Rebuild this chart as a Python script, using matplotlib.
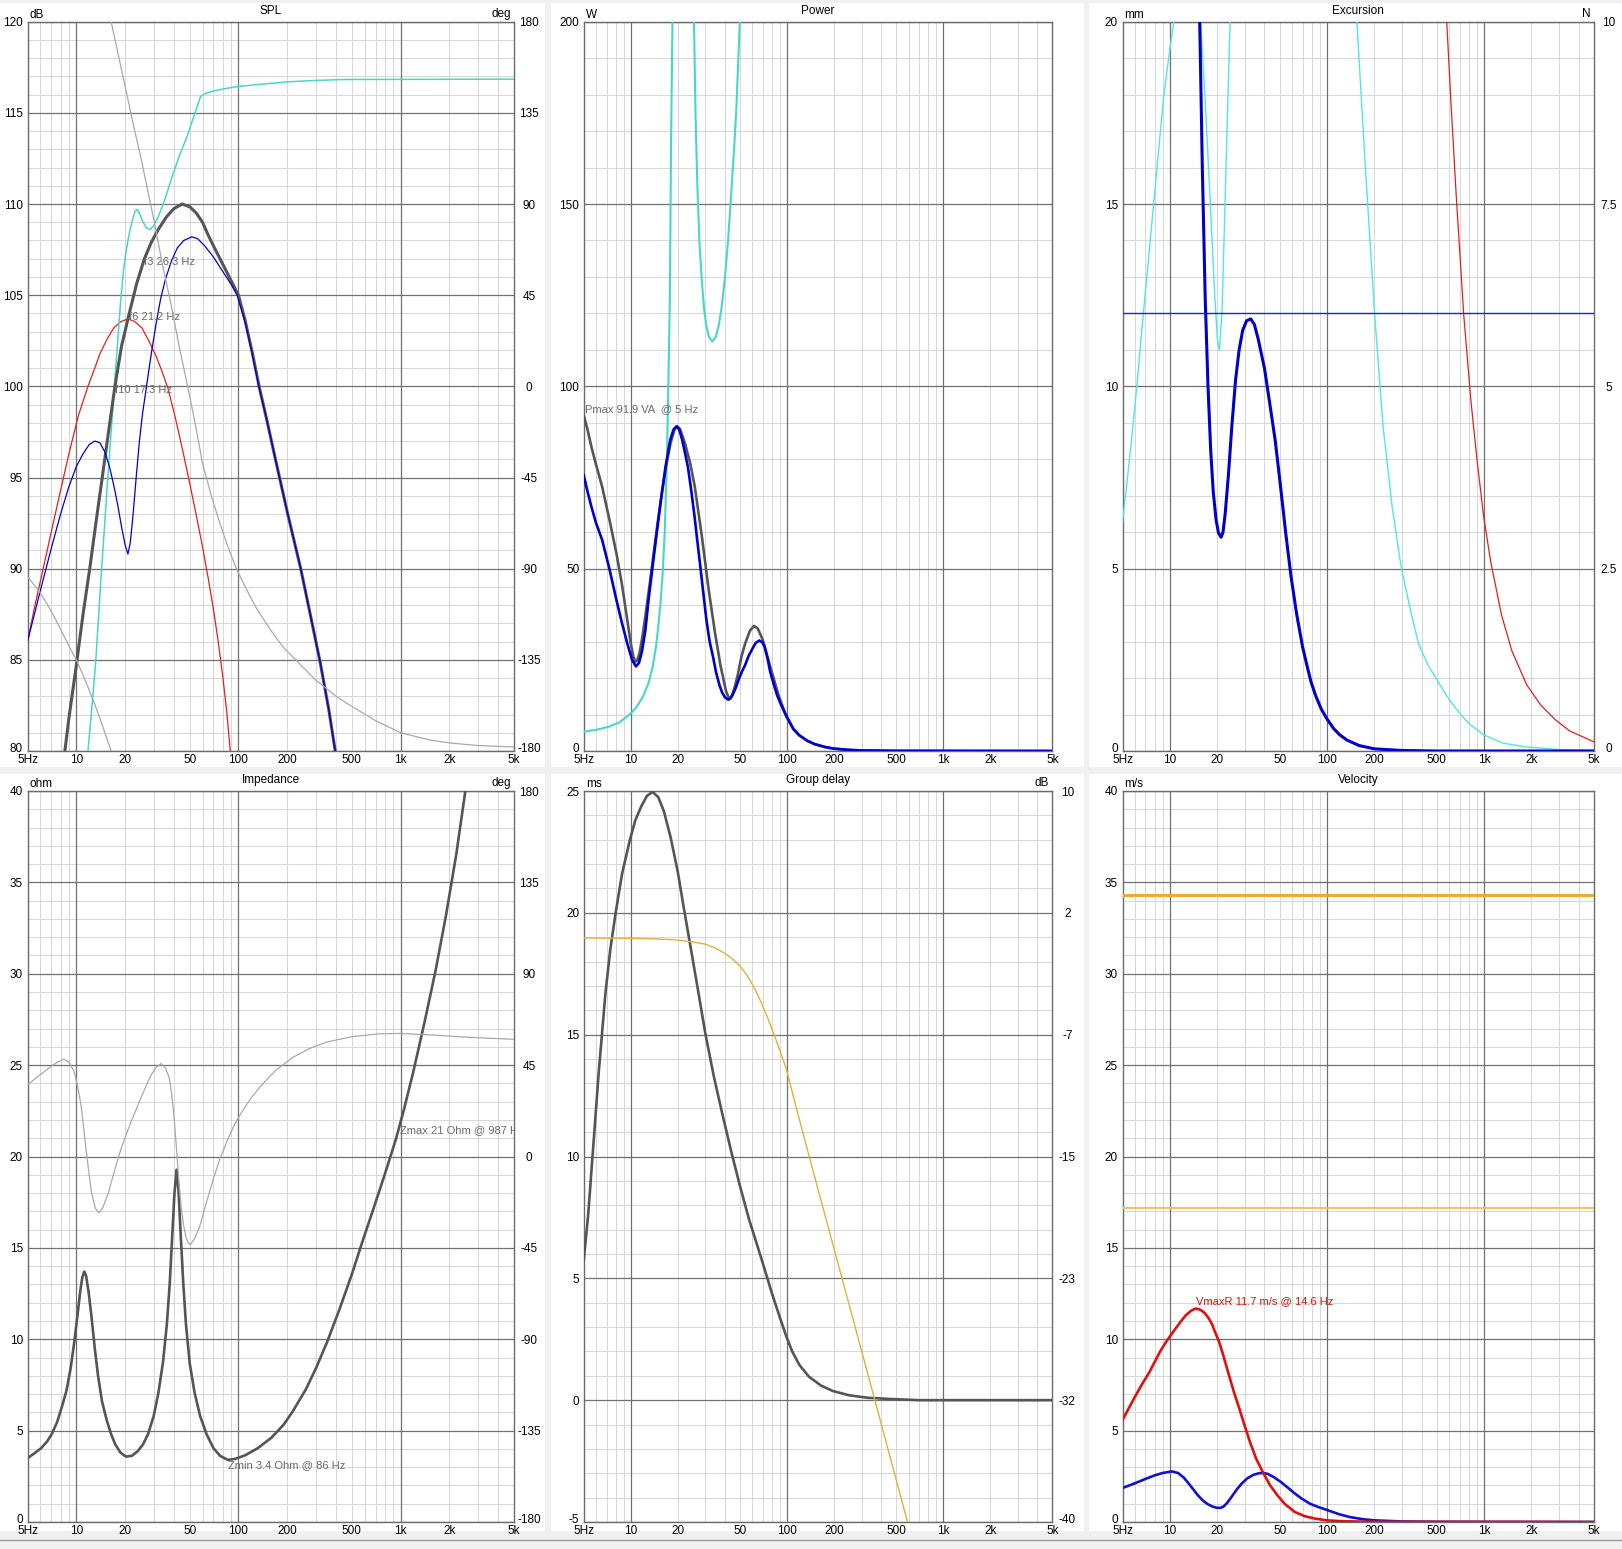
import numpy as np
import matplotlib
matplotlib.use('Agg')
import matplotlib.pyplot as plt
from matplotlib.ticker import NullLocator
from matplotlib.patches import Rectangle
from matplotlib.lines import Line2D
from matplotlib.transforms import ScaledTranslation

plt.rcParams['font.family'] = ['Liberation Sans', 'DejaVu Sans']

# ======================= DATA =======================
x_tick_vals = [5, 10, 20, 50, 100, 200, 500, 1000, 2000, 5000]
x_tick_labels = ['5Hz', '10', '20', '50', '100', '200', '500', '1k', '2k', '5k']

# ---- SPL panel (dB, phase in deg) ----
spl_total_f = [8.5, 9, 10, 11, 12.1, 13.2, 14.4, 15.8, 17.3, 19, 21.2, 23.5, 26.3, 29, 32, 36, 40, 45, 50, 55, 60, 65, 72, 80, 90, 100, 110, 122, 134, 150, 170, 200, 242, 280, 320, 360, 395, 420]
spl_total_db = [80, 81.8, 84.7, 87.5, 90, 92.5, 94.9, 97.5, 100, 102.2, 104, 105.6, 107, 107.9, 108.6, 109.3, 109.75, 110, 109.85, 109.5, 109, 108.3, 107.5, 106.7, 105.8, 105, 103.6, 101.8, 100, 98.1, 95.9, 93.1, 90, 87.3, 84.8, 82.3, 80, 78.5]

spl_blue_f = [5, 6, 7, 8, 9, 10, 11, 12, 13, 14, 15, 16, 17, 18, 19, 20, 20.8, 21.5, 22.3, 23.5, 24.5, 25.6, 27.2, 29, 31, 33.1, 35.5, 38.7, 42, 46, 51.5, 56, 62, 70, 80, 90, 98, 110, 122, 134, 150, 170, 200, 242, 280, 320, 360, 395, 420]
spl_blue_db = [86, 88.8, 91.1, 93, 94.5, 95.6, 96.3, 96.8, 97, 96.9, 96.4, 95.6, 94.6, 93.5, 92.3, 91.3, 90.8, 91.4, 92.8, 95.2, 97, 98.5, 100.1, 101.8, 103.4, 104.8, 105.9, 106.9, 107.6, 108, 108.2, 108.1, 107.7, 107.1, 106.3, 105.6, 105, 103.5, 101.7, 99.95, 98.1, 95.9, 93.1, 90, 87.3, 84.8, 82.3, 80, 78.5]

spl_red_f = [5, 5.5, 6, 6.5, 7, 8, 9, 10.3, 11.8, 13, 14, 15.5, 17, 18.8, 20.8, 23, 25.4, 28, 30.9, 33.5, 36.7, 40.5, 45, 50, 55, 60, 65, 70, 75, 80, 85, 88.6, 92]
spl_red_db = [86, 87.8, 89.3, 90.7, 92, 94.3, 96.3, 98.4, 100, 101, 101.8, 102.6, 103.2, 103.55, 103.7, 103.55, 103.2, 102.5, 101.7, 100.9, 99.9, 98.4, 96.6, 94.7, 92.9, 91.2, 89.5, 87.8, 86, 84.1, 82, 80.2, 78.5]

spl_cyan_f = [11.5, 11.8, 12.5, 13.2, 14.2, 15.5, 16.7, 17.6, 18.7, 19.5, 20.2, 21, 22, 23, 23.6, 24.5, 25.5, 27, 28.4, 30, 32, 35, 39, 43, 48.6, 53, 58.4, 62, 70, 85, 100, 150, 200, 300, 450, 5000]
spl_cyan_db = [78.5, 80, 82.5, 85, 89.5, 94.5, 98.5, 101.3, 104.5, 106.3, 107.3, 108.2, 109, 109.6, 109.7, 109.5, 109.1, 108.7, 108.6, 108.8, 109.3, 110.2, 111.5, 112.6, 113.8, 114.8, 115.9, 116.05, 116.2, 116.35, 116.45, 116.6, 116.7, 116.78, 116.83, 116.85]

spl_phase_lo_f = [5, 5.5, 6, 6.5, 7, 7.5, 8, 9, 10, 11, 12, 13, 14, 15, 16.4, 16.7]
spl_phase_lo_deg = [-94, -98, -102, -106.5, -111, -115.5, -120, -128, -135, -142.5, -150, -157, -164, -171, -180, -183]
spl_phase_hi_f = [16.2, 16.4, 18, 20, 22.5, 25, 27.5, 30, 34, 38.5, 43, 48, 54, 60, 68, 75, 85, 97, 115, 130, 160, 190, 225, 300, 400, 500, 700, 1000, 1500, 2000, 3000, 5000]
spl_phase_hi_deg = [183, 180, 165, 148, 129, 113, 97, 82.5, 60, 40, 20, 2, -18, -38, -54, -65, -78, -90, -102, -110, -121, -129, -135, -145, -153, -158, -165, -171, -174.5, -176, -177.3, -178]

spl_marks = [('f3 26.3 Hz', 26.3, 107), ('f6 21.2 Hz', 21.2, 104), ('f10 17.3 Hz', 17.3, 100)]

# ---- Power panel (W / VA) ----
pow_total_f = [5, 5.3, 5.6, 6, 6.56, 7.3, 8.1, 8.8, 9.5, 10, 10.4, 10.7, 11, 11.4, 11.9, 12.5, 13.2, 13.9, 14.8, 15.8, 16.9, 18, 19, 19.8, 20.7, 22.2, 24, 25.7, 28.5, 31.6, 34.6, 37.6, 40.7, 42.5, 44.5, 46.5, 48.5, 51.2, 54, 58, 61.5, 65, 70, 78, 88, 98.7, 110, 120, 135, 150, 175, 200, 250, 300, 500, 5000]
pow_total_w = [92.1, 88, 83.4, 78.5, 72.5, 63.5, 54.2, 45.5, 36, 29.5, 25.8, 24.5, 24.8, 27, 31.5, 38, 45.5, 53, 62, 70.5, 78.5, 84.5, 88, 89.1, 88.3, 84.5, 79, 72.5, 59, 44, 32.5, 23.3, 16.5, 14.4, 15.2, 17.8, 21, 26, 29.5, 33, 34.3, 33.6, 30.5, 23.3, 15.5, 9.6, 6, 4.3, 2.8, 1.9, 1.1, 0.65, 0.3, 0.15, 0.04, 0]

pow_blue_f = [5, 5.3, 5.6, 6, 6.56, 7.3, 8.1, 8.8, 9.5, 10.2, 10.8, 11.3, 11.8, 12.4, 13, 13.7, 14.5, 15.6, 16.7, 17.9, 18.8, 19.6, 20.4, 21.3, 22.2, 23.2, 24.3, 25.5, 26.7, 27.9, 29.2, 30.5, 32, 33.6, 35.2, 37, 38.5, 40, 41.5, 42.5, 43.7, 45, 47, 49, 51.5, 54, 57, 60, 63, 66.5, 69.5, 72, 75, 78, 82, 86.5, 92, 98.7, 110, 120, 135, 150, 175, 200, 250, 300, 500, 5000]
pow_blue_w = [75.7, 71, 67, 62.5, 57.9, 50, 41.4, 35, 29.5, 25, 23.2, 24.2, 27.3, 33, 41.4, 49.5, 58, 68.8, 78, 85.3, 88.2, 89, 88.2, 85.5, 82, 78, 72, 65, 57.5, 50.5, 43, 36, 30, 25.9, 21.5, 18, 16, 14.8, 14.2, 14.1, 14.5, 15.5, 17.3, 19.5, 21.8, 23.6, 26.2, 28, 29.6, 30.3, 29.8, 28.5, 25.5, 21.8, 18.5, 15.3, 12.5, 9.8, 6, 4.3, 2.8, 1.9, 1.1, 0.65, 0.3, 0.15, 0.04, 0]

pow_cyan_a_f = [5, 6, 7.3, 8.5, 10, 11, 12, 13, 13.8, 14.5, 15, 15.5, 16, 16.5, 17, 17.4, 17.8, 18.1, 18.5, 19]
pow_cyan_a_w = [5.3, 5.8, 6.7, 7.9, 10.3, 12.3, 15, 18.6, 23, 28.5, 34, 40.5, 48.5, 60, 78, 100, 123.6, 165, 200, 260]
pow_cyan_b_f = [24.8, 25.4, 26, 26.7, 27.5, 28.5, 29.5, 30.5, 31.7, 33.3, 35, 36.5, 38, 40, 42, 44, 46, 47.4, 49.9, 51, 52]
pow_cyan_b_w = [240, 200, 174, 155, 140, 129, 121, 116.5, 113.5, 112.3, 113.5, 116.5, 121, 129.5, 140, 153, 166, 176, 200, 215, 232]

pow_mark = ('Pmax 91.9 VA  @ 5 Hz', 5, 91.9)

# ---- Excursion panel (mm) ----
exc_blue_f = [14.5, 15.5, 16.1, 16.8, 17.5, 18.2, 18.9, 19.7, 20.4, 21.2, 21.8, 22.5, 23.6, 24.8, 26.2, 27.6, 29.1, 30.8, 32.7, 34.5, 36.5, 40, 43, 46.8, 50.5, 54.8, 59, 64.2, 70, 75, 79.1, 85, 92, 99.3, 110, 120, 134, 160, 200, 300, 500, 5000]
exc_blue_mm = [24, 20, 16, 12.4, 10, 8.25, 7.1, 6.34, 5.98, 5.86, 6.0, 6.5, 7.57, 8.9, 10.17, 11.0, 11.54, 11.8, 11.85, 11.7, 11.3, 10.5, 9.6, 8.53, 7.3, 5.93, 4.8, 3.74, 2.85, 2.3, 1.9, 1.5, 1.15, 0.9, 0.62, 0.45, 0.3, 0.15, 0.06, 0.015, 0, 0]
exc_xmax_mm = 12.0

exc_cyan_a_f = [5, 5.35, 5.71, 6.2, 6.68, 7.25, 7.82, 8.5, 9.16, 9.9, 10.6, 11.2]
exc_cyan_a_mm = [6.27, 7.4, 8.53, 10.1, 11.68, 13.3, 14.83, 16.5, 17.97, 19.1, 20, 21.5]
exc_cyan_b_f = [15.2, 15.7, 16.8, 18.2, 19.3, 20.1, 20.7, 21.5, 22.4, 23.4, 24.2, 24.7]
exc_cyan_b_mm = [21.5, 20, 17.84, 14.83, 12.5, 11.27, 10.99, 12.09, 14.83, 17.84, 20, 21.5]
exc_cyan_c_f = [148, 155, 165, 176, 188.6, 201, 227, 259, 295, 340, 384, 440, 500, 570, 650, 800, 990, 1300, 1862, 3000, 5000]
exc_cyan_c_mm = [21.5, 20, 17.97, 15.92, 13.86, 11.98, 8.94, 6.75, 5.1, 3.85, 2.92, 2.35, 1.96, 1.55, 1.2, 0.75, 0.45, 0.22, 0.11, 0.04, 0.02]

exc_red_f = [560, 578, 620, 667, 741, 823, 900, 990, 1100, 1288, 1500, 1862, 2300, 2833, 3500, 5000]
exc_red_mm = [21.5, 20, 17.5, 15.1, 11.98, 9.62, 8.0, 6.47, 5.2, 3.74, 2.75, 1.82, 1.25, 0.86, 0.55, 0.25]

# ---- Impedance panel (ohm, phase deg) ----
imp_f = [5, 5.5, 6.08, 6.6, 7.05, 7.6, 8.16, 8.7, 9.22, 9.7, 10.2, 10.6, 10.9, 11.2, 11.5, 11.9, 12.4, 13, 13.6, 14.4, 15.4, 16.4, 17.4, 18.7, 20.2, 22, 23.9, 25.8, 27.7, 30, 32.1, 34.3, 36.2, 37.7, 39, 40.3, 41.5, 42.7, 44.1, 45.7, 47.4, 50, 53.6, 58, 63.5, 70, 77, 86, 95, 110, 132, 160, 190, 216, 260, 300, 352, 420, 500, 574, 680, 800, 935, 1050, 1194, 1400, 1640, 1900, 2200, 2506, 2700]
imp_ohm = [3.49, 3.75, 4.05, 4.4, 4.81, 5.45, 6.32, 7.2, 8.4, 9.8, 11.43, 12.7, 13.4, 13.7, 13.45, 12.6, 11.24, 9.5, 8.03, 6.6, 5.57, 4.8, 4.24, 3.8, 3.58, 3.62, 3.87, 4.25, 4.81, 5.8, 7.08, 8.8, 10.86, 13.1, 15.59, 18.0, 19.28, 18.1, 15.59, 13.0, 10.86, 8.7, 7.08, 5.8, 4.81, 4.05, 3.62, 3.4, 3.45, 3.65, 4.05, 4.62, 5.33, 6.05, 7.25, 8.4, 9.85, 11.65, 13.55, 15.2, 17.15, 19.05, 20.95, 22.6, 24.6, 27.3, 30.15, 33.15, 36.5, 40, 42.3]

imp_ph_f = [5, 5.7, 6.4, 7.3, 8.36, 9.0, 9.68, 10.2, 10.7, 11.1, 11.5, 12, 12.4, 13.1, 13.8, 14.6, 15.8, 17.2, 18.7, 21, 23.9, 26.5, 29, 31, 33.3, 35.5, 37.5, 38.8, 40, 41, 42, 43.2, 44.5, 45.9, 47.4, 49, 50.5, 53.5, 57.6, 63.5, 70.1, 77, 85.3, 94, 104, 120, 139, 170, 216, 280, 352, 500, 733, 1000, 1524, 2500, 5000]
imp_ph_deg = [35.2, 39, 42, 45.5, 48, 46.5, 42, 34.5, 25, 14, 2.9, -9, -17.6, -25.5, -27.8, -25, -17.6, -7, 2.9, 14, 25, 33.5, 40.3, 43.8, 45.8, 43.5, 38.6, 30, 19.9, 9, -2.2, -15, -26.1, -34, -39.7, -42.5, -43.4, -40.5, -34.6, -22.5, -10.8, -1, 7.9, 15.3, 21.6, 29, 35.2, 42.5, 48.8, 53.5, 56.4, 59, 60.4, 60.6, 59.9, 58.8, 57.7]

imp_marks_top = [('Zmin 3.4 Ohm @ 86 Hz', 86, 3.4)]
imp_marks_bottom = [('Zmax 21 Ohm @ 987 Hz', 987, 21)]

# ---- Group delay panel (ms, dB) ----
gd_f = [5, 5.34, 5.77, 6.23, 6.89, 7.4, 8.02, 8.8, 9.82, 10.7, 11.7, 12.7, 13.8, 15, 16.3, 18, 20, 22, 24.5, 27, 30, 34, 38.6, 44, 49.8, 57, 67.6, 80, 90, 98.9, 108, 120, 138, 165, 196, 250, 326, 450, 698, 5000]
gd_ms = [5.73, 7.6, 10.5, 13.4, 16.71, 18.5, 20.03, 21.6, 22.93, 23.8, 24.38, 24.8, 24.96, 24.75, 24.17, 23.1, 21.69, 20.1, 18.37, 16.8, 15.06, 13.3, 11.74, 10.2, 8.84, 7.45, 5.94, 4.4, 3.4, 2.63, 2.0, 1.45, 0.97, 0.6, 0.38, 0.2, 0.1, 0.05, 0.0, 0.0]
gd_lvl_f = [5, 10, 15, 20, 25, 30, 35, 40.3, 45, 49.8, 55, 61, 67, 74.8, 85, 98.9, 115, 138, 196, 326, 598, 700]
gd_lvl_db = [-0.05, -0.08, -0.12, -0.2, -0.32, -0.48, -0.75, -1.12, -1.5, -1.95, -2.55, -3.35, -4.25, -5.45, -7.0, -9.0, -11.7, -14.9, -20.95, -29.7, -40.2, -43]

# ---- Velocity panel (m/s) ----
vel_red_f = [5, 5.5, 6.07, 6.7, 7.43, 8, 8.65, 9.3, 9.96, 10.8, 11.7, 12.6, 13.6, 14.6, 15.6, 16.6, 17.6, 18.6, 19.5, 20.5, 21.5, 22.6, 23.8, 25.6, 27.7, 30, 32.3, 35.5, 39.5, 43.5, 48.4, 54, 62.4, 72, 84.5, 100, 127, 200, 5000]
vel_red_ms = [5.57, 6.25, 6.93, 7.58, 8.21, 8.75, 9.31, 9.75, 10.13, 10.55, 10.95, 11.3, 11.55, 11.68, 11.62, 11.45, 11.18, 10.8, 10.35, 9.9, 9.35, 8.7, 8.03, 7.1, 6.2, 5.25, 4.4, 3.45, 2.65, 2.0, 1.46, 0.98, 0.55, 0.32, 0.18, 0.09, 0.04, 0.01, 0]
vel_blue_f = [5, 6, 7.06, 8, 9, 10.3, 11.3, 12.3, 13.2, 14.2, 15.1, 16.2, 17.4, 18.6, 19.8, 21, 22, 23.2, 24.6, 26.4, 28.5, 31, 34, 37, 39.5, 42, 46, 50.9, 56, 62, 69, 78, 88, 100, 120, 140, 170, 200, 300, 500, 5000]
vel_blue_ms = [1.86, 2.12, 2.37, 2.55, 2.68, 2.77, 2.68, 2.42, 2.1, 1.75, 1.46, 1.18, 0.98, 0.85, 0.78, 0.77, 0.85, 1.05, 1.35, 1.73, 2.08, 2.38, 2.58, 2.67, 2.68, 2.63, 2.45, 2.19, 1.9, 1.58, 1.28, 1.0, 0.82, 0.66, 0.42, 0.27, 0.15, 0.09, 0.03, 0.01, 0]
vel_limits = [34.33, 17.17]
vel_mark = ('VmaxR 11.7 m/s @ 14.6 Hz', 14.6, 11.7)

# axis tick labels
spl_ticks = [80, 85, 90, 95, 100, 105, 110, 115, 120]
deg_ticks = [-180, -135, -90, -45, 0, 45, 90, 135, 180]
pow_ticks = [0, 50, 100, 150, 200]
exc_ticks = [0, 5, 10, 15, 20]
exc_n_ticks = [0, 2.5, 5, 7.5, 10]
exc_n_labels = ['0', '2.5', '5', '7.5', '10']
imp_ticks = [0, 5, 10, 15, 20, 25, 30, 35, 40]
gd_ticks = [-5, 0, 5, 10, 15, 20, 25]
gd_db_ticks = [-40, -31.67, -23.33, -15, -6.67, 1.67, 10]
gd_db_labels = ['-40', '-32', '-23', '-15', '-7', '2', '10']
vel_ticks = [0, 5, 10, 15, 20, 25, 30, 35, 40]

# ======================= LAYOUT =======================
W, H = 1622, 1549
fig = plt.figure(figsize=(W / 100, H / 100), dpi=100, facecolor='#f0f0f0')

for (x0, x1) in [(0, 545), (551, 1084), (1089, 1622)]:
    for (y0, y1) in [(3.5, 767), (774, 1531)]:
        fig.add_artist(Rectangle((x0 / W, 1 - y1 / H), (x1 - x0) / W, (y1 - y0) / H,
                                 transform=fig.transFigure, facecolor='white',
                                 edgecolor='none', zorder=0))
fig.add_artist(Line2D([0, 1], [1 - 1540 / H] * 2, transform=fig.transFigure,
                      color='#9a9a9a', lw=1.0))

cols = [(27.5, 514.0), (583.7, 1052.4), (1122.5, 1594.0)]
rows = [(21.7, 751.0), (791.0, 1522.0)]

GRID_MAJ = '#707070'
GRID_MIN = '#d8d8d8'
FS = 8.5
x_minor_grid = [6, 7, 8, 9, 20, 30, 40, 50, 60, 70, 80, 90, 200, 300, 400, 500,
                600, 700, 800, 900, 2000, 3000, 4000]
x_major_grid = [10, 100, 1000]
raise_bottom = ScaledTranslation(0, 3.5 / 100, fig.dpi_scale_trans)


def make_ax(col, row, ylim, yticks, ylabels, minor_step, title, unit):
    x0, x1 = cols[col]
    y0, y1 = rows[row]
    ax = fig.add_axes([x0 / W, 1 - y1 / H, (x1 - x0) / W, (y1 - y0) / H])
    ax.set_facecolor('white')
    ax.set_xscale('log')
    ax.set_xlim(5, 5000)
    ax.set_ylim(*ylim)
    ax.set_xticks(x_tick_vals, x_tick_labels)
    ax.xaxis.set_minor_locator(NullLocator())
    ax.set_yticks(yticks, ylabels)
    ax.yaxis.set_minor_locator(NullLocator())
    ax.tick_params(axis='x', length=0, labelsize=FS, pad=2.0)
    ax.tick_params(axis='y', length=0, labelsize=FS, pad=3.2)
    lbl = ax.yaxis.get_major_ticks()[0].label1
    lbl.set_transform(lbl.get_transform() + raise_bottom)
    for s in ax.spines.values():
        s.set_color('#6a6a6a')
        s.set_linewidth(1.0)
    for v in np.arange(ylim[0], ylim[1] + 1e-9, minor_step):
        if min(abs(v - t) for t in yticks) > 1e-6:
            ax.axhline(v, color=GRID_MIN, lw=0.75, zorder=0.3)
    for v in x_minor_grid:
        ax.axvline(v, color=GRID_MIN, lw=0.75, zorder=0.3)
    for v in yticks:
        ax.axhline(v, color=GRID_MAJ, lw=0.9, zorder=0.4)
    for v in x_major_grid:
        ax.axvline(v, color=GRID_MAJ, lw=0.9, zorder=0.4)
    ax.annotate(title, xy=(0.5, 1), xycoords='axes fraction', xytext=(0, 7.6),
                textcoords='offset points', ha='center', va='center', fontsize=FS)
    ax.annotate(unit, xy=(0, 1), xycoords='axes fraction', xytext=(1.5, 5.0),
                textcoords='offset points', ha='left', va='center', fontsize=FS)
    return ax


def right_axis(ax, ylim, ticks, labels, unit):
    tw = ax.twinx()
    tw.set_ylim(*ylim)
    tw.set_yticks(ticks, labels)
    tw.yaxis.set_minor_locator(NullLocator())
    tw.tick_params(axis='y', length=0, labelsize=FS, pad=10.8)
    for lbl in tw.get_yticklabels():
        lbl.set_ha('center')
    lbl = tw.yaxis.get_major_ticks()[0].label2
    lbl.set_transform(lbl.get_transform() + raise_bottom)
    for s in tw.spines.values():
        s.set_visible(False)
    ax.annotate(unit, xy=(1, 1), xycoords='axes fraction', xytext=(-2.5, 5.5),
                textcoords='offset points', ha='right', va='center', fontsize=FS)
    return tw


ANN = '#6a6a6a'
GRAY_T = '#555555'
PH = '#a9a9a9'
CYAN = '#45d8c8'
CYAN2 = '#4fe6e6'
BLUE = '#0000cc'
RED = '#e02020'

# ---------- SPL ----------
ax = make_ax(0, 0, (80, 120), spl_ticks, [str(t) for t in spl_ticks], 1, 'SPL', 'dB')
tw = right_axis(ax, (-180, 180), deg_ticks, [str(t) for t in deg_ticks], 'deg')
ax.plot(spl_red_f, spl_red_db, color=RED, lw=0.9, zorder=3)
ax.plot(spl_cyan_f, spl_cyan_db, color=CYAN, lw=1.1, zorder=3)
ax.plot(spl_total_f, spl_total_db, color=GRAY_T, lw=2.2, zorder=4)
ax.plot(spl_blue_f, spl_blue_db, color=BLUE, lw=0.9, zorder=5)
tw.plot(spl_phase_lo_f, spl_phase_lo_deg, color=PH, lw=0.9)
tw.plot(spl_phase_hi_f, spl_phase_hi_deg, color=PH, lw=0.9)
for txt, f, v in spl_marks:
    ax.annotate(txt, xy=(f, v), xytext=(0, 1), textcoords='offset points',
                ha='left', va='top', fontsize=8, color=ANN, zorder=6)

# ---------- Power ----------
ax = make_ax(1, 0, (0, 200), pow_ticks, [str(t) for t in pow_ticks], 10, 'Power', 'W')
ax.plot(pow_cyan_a_f, pow_cyan_a_w, color=CYAN, lw=1.5, zorder=3)
ax.plot(pow_cyan_b_f, pow_cyan_b_w, color=CYAN, lw=1.5, zorder=3)
ax.plot(pow_total_f, pow_total_w, color=GRAY_T, lw=1.9, zorder=4)
ax.plot(pow_blue_f, pow_blue_w, color=BLUE, lw=1.9, zorder=5)
txt, f, v = pow_mark
ax.annotate(txt, xy=(f, v), xytext=(1, 1.5), textcoords='offset points',
            ha='left', va='bottom', fontsize=8, color=ANN, zorder=6)

# ---------- Excursion ----------
ax = make_ax(2, 0, (0, 20), exc_ticks, [str(t) for t in exc_ticks], 1, 'Excursion', 'mm')
right_axis(ax, (0, 10), exc_n_ticks, exc_n_labels, 'N')
ax.plot(exc_cyan_a_f, exc_cyan_a_mm, color=CYAN2, lw=1.0, zorder=3)
ax.plot(exc_cyan_b_f, exc_cyan_b_mm, color=CYAN2, lw=1.0, zorder=3)
ax.plot(exc_cyan_c_f, exc_cyan_c_mm, color=CYAN2, lw=1.0, zorder=3)
ax.plot(exc_red_f, exc_red_mm, color=RED, lw=0.9, zorder=3)
ax.axhline(exc_xmax_mm, color='#2020d0', lw=1.0, zorder=3)
ax.plot(exc_blue_f, exc_blue_mm, color='#0000c8', lw=2.2, zorder=5)

# ---------- Impedance ----------
ax = make_ax(0, 1, (0, 40), imp_ticks, [str(t) for t in imp_ticks], 1, 'Impedance', 'ohm')
tw = right_axis(ax, (-180, 180), deg_ticks, [str(t) for t in deg_ticks], 'deg')
ax.plot(imp_f, imp_ohm, color=GRAY_T, lw=1.9, zorder=4)
tw.plot(imp_ph_f, imp_ph_deg, color=PH, lw=0.9)
for txt, f, v in imp_marks_top:
    ax.annotate(txt, xy=(f, v), xytext=(0, 0), textcoords='offset points',
                ha='left', va='top', fontsize=8, color=ANN, zorder=6)
for txt, f, v in imp_marks_bottom:
    ax.annotate(txt, xy=(f, v), xytext=(0, 2), textcoords='offset points',
                ha='left', va='bottom', fontsize=8, color=ANN, zorder=6, clip_on=True)

# ---------- Group delay ----------
ax = make_ax(1, 1, (-5, 25), gd_ticks, [str(t) for t in gd_ticks], 1, 'Group delay', 'ms')
tw = right_axis(ax, (-40, 10), gd_db_ticks, gd_db_labels, 'dB')
ax.plot(gd_f, gd_ms, color=GRAY_T, lw=1.9, zorder=4)
tw.plot(gd_lvl_f, gd_lvl_db, color='#e0b040', lw=1.0)

# ---------- Velocity ----------
ax = make_ax(2, 1, (0, 40), vel_ticks, [str(t) for t in vel_ticks], 1, 'Velocity', 'm/s')
ax.axhline(vel_limits[0], color='#f0a830', lw=2.2, zorder=3)
ax.axhline(vel_limits[1], color='#f3c060', lw=1.4, zorder=3)
ax.plot(vel_blue_f, vel_blue_ms, color='#1010d0', lw=1.9, zorder=4)
ax.plot(vel_red_f, vel_red_ms, color='#e01010', lw=1.9, zorder=5)
txt, f, v = vel_mark
ax.annotate(txt, xy=(f, v), xytext=(0, 1.5), textcoords='offset points',
            ha='left', va='bottom', fontsize=8, color='#e01010', zorder=6)

fig.savefig('out.png', dpi=100, facecolor=fig.get_facecolor())
